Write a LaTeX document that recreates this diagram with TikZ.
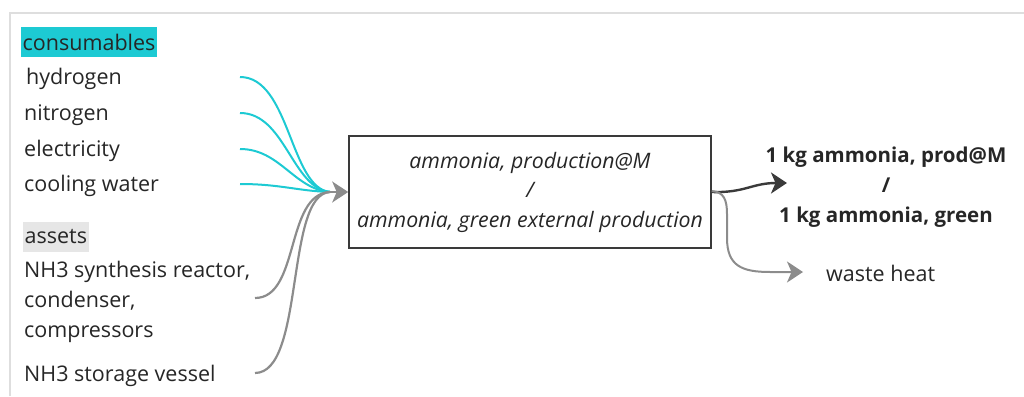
\documentclass[tikz,border=0pt]{standalone}
\usepackage{fontspec}
\setmainfont{Open Sans}
\usetikzlibrary{arrows.meta}
\definecolor{cyanc}{HTML}{1DCAD3}
\definecolor{framegray}{HTML}{DEDEDE}
\definecolor{assetbg}{HTML}{E6E6E6}
\definecolor{conngray}{HTML}{8C8C8C}
\definecolor{darkarrow}{HTML}{3A3A3A}
\definecolor{txt}{HTML}{262626}
\tikzset{
  lbl/.style={anchor=west, inner sep=0pt, text=txt, font=\fontsize{21.5}{24}\selectfont},
  hdr/.style={lbl, inner xsep=1.5pt, minimum height=30pt},
  incyan/.style={cyanc, line width=2pt},
  ingray/.style={conngray, line width=2.2pt},
  tip/.style={-{Stealth[length=16pt,width=21pt,inset=4.5pt]}},
  procbox/.style={draw=darkarrow, line width=1.6pt, minimum width=362pt, minimum height=112pt, align=center, text=txt, font=\fontsize{21.3}{29.5}\selectfont\itshape},
  outlbl/.style={align=center, text=txt, font=\fontsize{20.5}{30}\selectfont\bfseries},
}
\begin{document}
\begin{tikzpicture}[x=1pt,y=-1pt]
\useasboundingbox (0,0) rectangle (1024,396);
\draw[framegray, line width=2pt] (9.5,396) -- (9.5,13.5) -- (1024,13.5);

% headers
\node[hdr, fill=cyanc] (cons) at (21,42) {consumables};
\node[hdr, fill=assetbg] (ass) at (23,237) {assets};

% consumables
\node[lbl] (hyd) at (26,79) {hydrogen};
\node[lbl] (nit) at (24,115) {nitrogen};
\node[lbl] (ele) at (24,151) {electricity};
\node[lbl] (coo) at (24,186) {cooling water};

% assets
\node[lbl, align=left, font=\fontsize{21.5}{30}\selectfont] (reac) at (24,302) {NH3 synthesis reactor,\\condenser,\\compressors};
\node[lbl] (stor) at (24,376) {NH3 storage vessel};

% process
\node[procbox] (proc) at (530,192) {ammonia, production@M\\/\\ammonia, green external production};

% outputs
\node[outlbl] (prod) at (886,187) {1 kg ammonia, prod@M\\/\\1 kg ammonia, green};
\node[lbl] (waste) at (826,273) {waste heat};

% connector ends
\coordinate (c1) at (240,77);
\coordinate (c2) at (240,113);
\coordinate (c3) at (240,149);
\coordinate (c4) at (240,184);
\coordinate (a1) at (255,298);
\coordinate (a2) at (255,373);
\coordinate (m) at (330,192);
\coordinate (o1) at (787,183);
\coordinate (o2) at (803,272);

% cyan inputs
\draw[incyan] (c1) .. controls (290,77) and (290,188) .. (m);
\draw[incyan] (c2) .. controls (285,113) and (292,188) .. (m);
\draw[incyan] (c3) .. controls (280,149) and (294,189) .. (m);
\draw[incyan] (c4) .. controls (280,184) and (298,191) .. (m);

% gray asset inputs
\draw[ingray] (a1) .. controls (300,298) and (285,194) .. (m);
\draw[ingray] (a2) .. controls (305,373) and (285,194) .. (m);

\draw[ingray, tip] (m) -- (proc.west);

% outputs
\draw[darkarrow, line width=2.4pt, tip] (proc.east) .. controls (745,193) and (752,183) .. (o1);
\draw[ingray, line width=2pt, tip] ([yshift=1pt]proc.east) .. controls (724,192) and (727,200) .. (727,214) -- (727,238) .. controls (727,266) and (742,272) .. (770,272) -- (o2);
\end{tikzpicture}
\end{document}
